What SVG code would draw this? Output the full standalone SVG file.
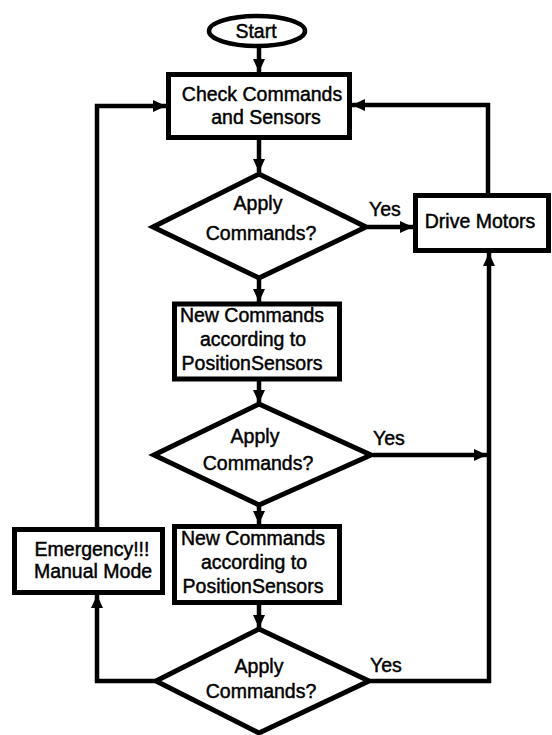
<svg xmlns="http://www.w3.org/2000/svg" width="552" height="735" viewBox="0 0 552 735">
<defs>
<marker id="ah" markerUnits="userSpaceOnUse" markerWidth="14" markerHeight="14" viewBox="0 0 14 14" refX="13" refY="7" orient="auto">
<path d="M0,1 L13,7 L0,13 Z" fill="#000"/>
</marker>
<style>
.box{fill:#fff;stroke:#000;stroke-width:5}
.dia{fill:#fff;stroke:#000;stroke-width:5;stroke-linejoin:miter}
.ln{fill:none;stroke:#000;stroke-width:4.5}
.arr{fill:none;stroke:#000;stroke-width:4.5;marker-end:url(#ah)}
text{font-family:"Liberation Sans",Arial,sans-serif;font-size:19.5px;fill:#000;text-anchor:middle;stroke:#000;stroke-width:0.45}
.lbl{text-anchor:start}
</style>
</defs>
<rect width="552" height="735" fill="#fff"/>
<g id="connectors">
<line class="arr" x1="259" y1="48" x2="259" y2="72"/>
<line class="arr" x1="259" y1="140" x2="259" y2="172"/>
<line class="arr" x1="259" y1="278" x2="259" y2="302"/>
<line class="arr" x1="259" y1="381" x2="259" y2="403"/>
<line class="arr" x1="259" y1="505" x2="259" y2="524"/>
<line class="arr" x1="259" y1="605" x2="259" y2="628"/>
<line class="arr" x1="367" y1="227" x2="413" y2="227"/>
<line class="arr" x1="373" y1="455" x2="487" y2="455"/>
<polyline class="arr" points="370,681 489,681 489,253"/>
<polyline class="arr" points="488,193 488,105 352,105"/>
<polyline class="arr" points="97,527 97,106 166,106"/>
<polyline class="arr" points="155,681 97,681 97,595"/>
</g>
<g id="start">
<ellipse cx="257" cy="31" rx="48" ry="15" fill="#fff" stroke="#000" stroke-width="4.5"/>
<text x="256" y="38">Start</text>
</g>
<g id="check">
<rect class="box" x="168.5" y="74.5" width="181" height="63"/>
<text x="262" y="101">Check Commands</text>
<text x="266" y="124">and Sensors</text>
</g>
<g id="apply1">
<polygon class="dia" points="259,174 366,227 259,278 153,227"/>
<text x="258" y="210">Apply</text>
<text x="261" y="240">Commands?</text>
</g>
<g id="drive">
<rect class="box" x="415.5" y="195.5" width="133" height="55"/>
<text x="480" y="228">Drive Motors</text>
</g>
<g id="newcmd1">
<rect class="box" x="174.5" y="304" width="165" height="75"/>
<text x="252" y="322">New Commands</text>
<text x="253" y="346">according to</text>
<text x="252" y="370">PositionSensors</text>
</g>
<g id="apply2">
<polygon class="dia" points="259,404 371,455 259,505 154,455"/>
<text x="255" y="443">Apply</text>
<text x="258" y="470">Commands?</text>
</g>
<g id="newcmd2">
<rect class="box" x="174.5" y="526.5" width="165" height="76"/>
<text x="253" y="545">New Commands</text>
<text x="254" y="569">according to</text>
<text x="253" y="593">PositionSensors</text>
</g>
<g id="emergency">
<rect class="box" x="14.5" y="529.5" width="148" height="63"/>
<text x="92" y="556">Emergency!!!</text>
<text x="93" y="578">Manual Mode</text>
</g>
<g id="apply3">
<polygon class="dia" points="259,629 369,681 259,733 156,681"/>
<text x="259" y="673">Apply</text>
<text x="261" y="698">Commands?</text>
</g>
<g id="labels">
<text class="lbl" x="369" y="216">Yes</text>
<text class="lbl" x="373" y="445">Yes</text>
<text class="lbl" x="370" y="672">Yes</text>
</g>
</svg>
